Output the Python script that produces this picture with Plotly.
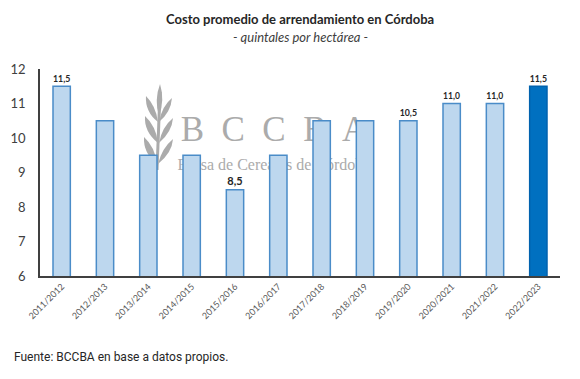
import plotly.graph_objects as go

campaigns = ["2011/2012", "2012/2013", "2013/2014", "2014/2015", "2015/2016", "2016/2017",
             "2017/2018", "2018/2019", "2019/2020", "2020/2021", "2021/2022", "2022/2023"]
values = [11.5, 10.5, 9.5, 9.5, 8.5, 9.5, 10.5, 10.5, 10.5, 11.0, 11.0, 11.5]
labelled = [True, False, False, False, True, False, False, False, True, True, True, True]
y_ticks = [6, 7, 8, 9, 10, 11, 12]

fills = ["#BDD7EE"] * (len(values) - 1) + ["#0070C0"]
lines = ["#4A8CC8"] * (len(values) - 1) + ["#0062AE"]
texts = [("<b>" + f"{v:.1f}".replace(".", ",") + "</b>") if show else "" for v, show in zip(values, labelled)]

fig = go.Figure()
fig.add_trace(go.Bar(
    x=campaigns, y=values, base=0,
    marker=dict(color=fills, line=dict(color=lines, width=1.5)),
    width=0.4,
    text=texts, textposition="outside", cliponaxis=False,
    textfont=dict(family="Lato", size=11, color="#262626"),
    hoverinfo="skip",
))

wm = "#ABABAB"
fig.add_shape(type="rect", xref="paper", yref="paper", x0=0.33, x1=0.57, y0=0.69, y1=0.76,
              layer="below", line=dict(width=0), fillcolor="rgba(0,0,0,0)",
              label=dict(text="B  C  C  B  A", font=dict(family="Liberation Serif", size=35, color=wm)))
fig.add_shape(type="rect", xref="paper", yref="paper", x0=0.33, x1=0.57, y0=0.52, y1=0.58,
              layer="below", line=dict(width=0), fillcolor="rgba(0,0,0,0)",
              label=dict(text="Bolsa de Cereales de Córdoba", font=dict(family="Liberation Serif", size=16, color=wm)))

# wheat icon (pixel-like coordinates converted to paper)
leaf_paths = [
    "M 157 170 L 160 92",
    "M 160 84 Q 154 100 159 116 Q 165 100 160 84 Z",
    "M 158 122 Q 145 112 146 96 Q 156 106 158 122 Z",
    "M 159 122 Q 171 112 172 98 Q 162 106 159 122 Z",
    "M 158 143 Q 144 132 145 116 Q 156 126 158 143 Z",
    "M 159 143 Q 172 132 173 118 Q 162 127 159 143 Z",
    "M 157 164 Q 143 153 144 137 Q 155 147 157 164 Z",
    "M 158 164 Q 172 153 173 139 Q 162 148 158 164 Z",
]
W, H = 520, 207
def px_to_paper_path(path):
    out, idx = [], 0
    for t in path.split():
        try:
            v = float(t)
            out.append(f"{(v - 40) / W:.4f}" if idx % 2 == 0 else f"{(276 - v) / H:.4f}")
            idx += 1
        except ValueError:
            out.append(t)
    return " ".join(out)

for i, p in enumerate(leaf_paths):
    if i == 0:
        fig.add_shape(type="path", xref="paper", yref="paper", path=px_to_paper_path(p),
                      layer="below", line=dict(color=wm, width=3))
    else:
        fig.add_shape(type="path", xref="paper", yref="paper", path=px_to_paper_path(p),
                      layer="below", line=dict(width=0), fillcolor=wm)

fig.update_layout(
    width=580, height=379,
    margin=dict(l=40, r=20, t=69, b=103),
    paper_bgcolor="white", plot_bgcolor="white",
    showlegend=False,
    xaxis=dict(
        type="category", tickangle=-45, showgrid=False,
        showline=True, linecolor="#404040", linewidth=1.5,
        tickfont=dict(family="Lato", size=9, color="#595959"),
        ticks="", fixedrange=True,
    ),
    yaxis=dict(
        range=[6, 12], tickvals=y_ticks, showgrid=False, zeroline=False,
        showline=True, linecolor="#404040", linewidth=1.5,
        tickfont=dict(family="Lato", size=13, color="#404040"),
        ticks="", ticklabelstandoff=10, fixedrange=True,
    ),
    annotations=[
        dict(text="<b>Costo promedio de arrendamiento en Córdoba</b>", xref="paper", yref="paper",
             x=0.5, y=1, yshift=50, showarrow=False, xanchor="center", yanchor="middle",
             font=dict(family="Lato", size=13, color="#262626")),
        dict(text="<i>- quintales por hectárea -</i>", xref="paper", yref="paper",
             x=0.5, y=1, yshift=32, showarrow=False, xanchor="center", yanchor="middle",
             font=dict(family="Lato", size=13, color="#404040")),
        dict(text="Fuente: BCCBA en base a datos propios.", xref="paper", yref="paper",
             x=0, xshift=-28, y=0, yshift=-81, showarrow=False, xanchor="left", yanchor="middle",
             font=dict(family="Roboto", size=12, color="#262626")),
    ],
)

fig.write_html("out.html", config={"displayModeBar": False},
               post_script="document.body.style.margin='0';")
